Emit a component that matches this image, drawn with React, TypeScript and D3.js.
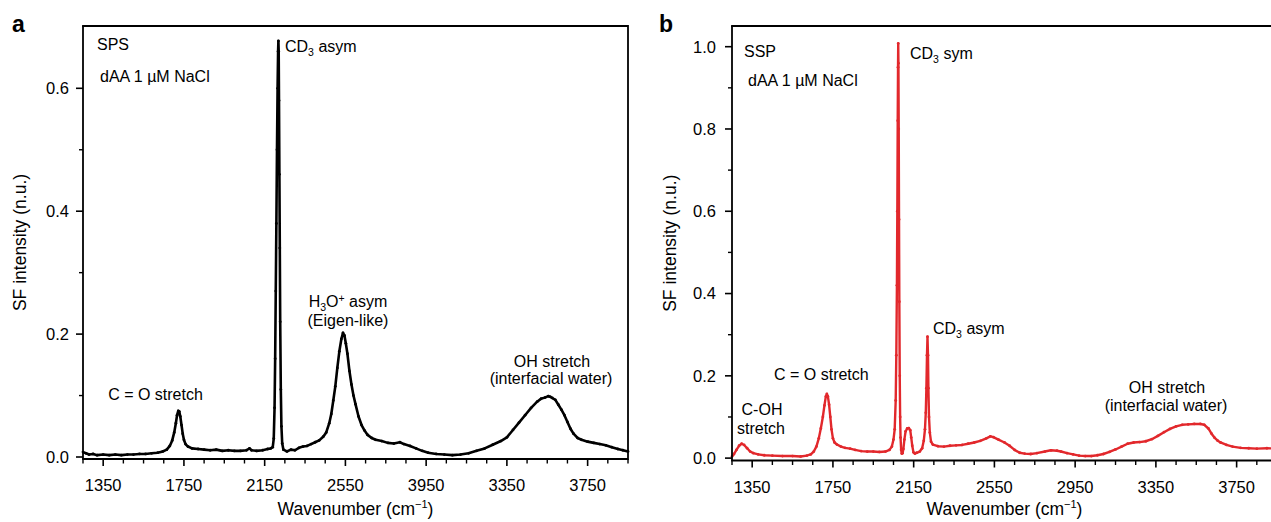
import React from 'react';
import * as d3 from 'd3';

// ---------- Data ----------
// Panel a: SPS, dAA 1 µM NaCl (black)
const spsWavenumber = [
  1250, 1265, 1280, 1300, 1320, 1350, 1380, 1410, 1440, 1470, 1500, 1530, 1560, 1590, 1620, 1645, 1665, 1680,
  1692, 1702, 1710, 1716, 1722, 1727, 1732, 1738, 1744, 1750, 1758, 1770, 1790, 1820, 1850, 1880, 1910, 1940,
  1970, 2000, 2030, 2060, 2075, 2085, 2110, 2140, 2165, 2180, 2190, 2195, 2199, 2202, 2205, 2208, 2211, 2214,
  2216.5, 2218, 2219.5, 2221, 2223, 2225, 2227, 2230, 2233, 2237, 2243, 2260, 2280, 2300, 2320, 2340, 2360, 2380,
  2400, 2420, 2440, 2455, 2470, 2480, 2490, 2500, 2510, 2520, 2530, 2538, 2545, 2552, 2560, 2570, 2580, 2590,
  2600, 2615, 2630, 2645, 2660, 2680, 2700, 2730, 2760, 2790, 2820, 2840, 2870, 2900, 2930, 2960, 3000, 3040,
  3080, 3120, 3160, 3200, 3240, 3280, 3320, 3350, 3380, 3410, 3440, 3470, 3500, 3520, 3540, 3555, 3565, 3575,
  3590, 3605, 3620, 3635, 3650, 3665, 3680, 3700, 3720, 3750, 3780, 3810, 3840, 3870, 3900, 3925, 3950,
];
const spsIntensity = [
  0.008, 0.006, 0.004, 0.005, 0.003, 0.004, 0.003, 0.004, 0.003, 0.004, 0.004, 0.005, 0.005, 0.006, 0.007, 0.009, 0.012, 0.018,
  0.027, 0.040, 0.055, 0.068, 0.075, 0.074, 0.066, 0.052, 0.038, 0.028, 0.021, 0.017, 0.014, 0.013, 0.012, 0.011, 0.012, 0.010,
  0.011, 0.010, 0.010, 0.011, 0.014, 0.011, 0.010, 0.011, 0.013, 0.014, 0.016, 0.030, 0.080, 0.160, 0.270, 0.380, 0.500, 0.600,
  0.660, 0.677, 0.660, 0.580, 0.460, 0.340, 0.220, 0.110, 0.050, 0.022, 0.012, 0.009, 0.012, 0.011, 0.015, 0.017, 0.018, 0.021,
  0.024, 0.027, 0.033, 0.040, 0.055, 0.070, 0.092, 0.115, 0.145, 0.172, 0.192, 0.202, 0.198, 0.185, 0.168, 0.140, 0.118, 0.100,
  0.086, 0.066, 0.052, 0.043, 0.036, 0.031, 0.028, 0.026, 0.023, 0.022, 0.024, 0.021, 0.018, 0.014, 0.010, 0.007, 0.005, 0.004,
  0.003, 0.004, 0.006, 0.010, 0.014, 0.020, 0.026, 0.032, 0.044, 0.056, 0.068, 0.080, 0.090, 0.095, 0.097, 0.099, 0.098, 0.096,
  0.093, 0.085, 0.077, 0.068, 0.057, 0.046, 0.038, 0.031, 0.028, 0.025, 0.023, 0.021, 0.019, 0.016, 0.013, 0.011, 0.009,
];

// Panel b: SSP, dAA 1 µM NaCl (red)
const sspWavenumber = [
  1250, 1260, 1272, 1285, 1298, 1310, 1325, 1340, 1356, 1380, 1410, 1450, 1500, 1550, 1590, 1620, 1640, 1655,
  1668, 1680, 1690, 1700, 1708, 1715, 1720, 1725, 1731, 1737, 1743, 1750, 1758, 1770, 1790, 1810, 1835, 1860,
  1890, 1920, 1950, 1980, 2010, 2030, 2042, 2050, 2056, 2061, 2064, 2067, 2069, 2071, 2072.5, 2073.5, 2074.5, 2076,
  2077.5, 2079, 2081, 2083, 2085, 2088, 2091, 2095, 2099, 2104, 2110, 2118, 2126, 2133, 2138, 2143, 2149, 2156,
  2165, 2180, 2192, 2200, 2206, 2210, 2213, 2216, 2218.5, 2221, 2223, 2226, 2230, 2236, 2245, 2270, 2300, 2330,
  2360, 2390, 2420, 2450, 2480, 2510, 2530, 2545, 2570, 2600, 2625, 2650, 2675, 2700, 2730, 2760, 2800, 2830,
  2860, 2880, 2910, 2940, 2970, 3000, 3030, 3060, 3090, 3120, 3150, 3180, 3210, 3240, 3270, 3300, 3330, 3360,
  3390, 3420, 3450, 3480, 3510, 3540, 3570, 3590, 3610, 3625, 3640, 3655, 3670, 3700, 3730, 3770, 3810, 3850,
  3900, 3950,
];
const sspIntensity = [
  0.004, 0.010, 0.020, 0.030, 0.035, 0.032, 0.024, 0.016, 0.012, 0.009, 0.007, 0.006, 0.005, 0.005, 0.004, 0.006, 0.009, 0.016,
  0.028, 0.048, 0.072, 0.100, 0.128, 0.150, 0.156, 0.150, 0.130, 0.100, 0.070, 0.048, 0.038, 0.033, 0.028, 0.025, 0.023, 0.020,
  0.017, 0.016, 0.016, 0.015, 0.016, 0.020, 0.028, 0.045, 0.070, 0.140, 0.250, 0.420, 0.600, 0.820, 0.950, 1.008, 0.960, 0.800,
  0.580, 0.380, 0.200, 0.100, 0.050, 0.020, 0.011, 0.012, 0.022, 0.045, 0.065, 0.072, 0.073, 0.068, 0.050, 0.030, 0.014, 0.011,
  0.013, 0.016, 0.024, 0.042, 0.070, 0.110, 0.170, 0.250, 0.295, 0.250, 0.170, 0.100, 0.062, 0.040, 0.033, 0.029, 0.028, 0.030,
  0.031, 0.032, 0.035, 0.038, 0.042, 0.048, 0.053, 0.051, 0.045, 0.038, 0.030, 0.020, 0.013, 0.011, 0.010, 0.012, 0.016, 0.019,
  0.018, 0.016, 0.012, 0.009, 0.006, 0.005, 0.005, 0.007, 0.010, 0.015, 0.021, 0.028, 0.035, 0.038, 0.039, 0.041, 0.046, 0.054,
  0.063, 0.071, 0.077, 0.081, 0.082, 0.083, 0.083, 0.081, 0.072, 0.060, 0.050, 0.043, 0.038, 0.032, 0.028, 0.025, 0.024, 0.023,
  0.024, 0.023,
];

const xMajorTicks = [1350, 1750, 2150, 2550, 2950, 3350, 3750];
const spsXTickLabels = ['1350', '1750', '2150', '2550', '3950', '3350', '3750'];
const sspXTickLabels = ['1350', '1750', '2150', '2550', '2950', '3350', '3750'];
const xMinorTicks = [1250, 1450, 1550, 1650, 1850, 1950, 2050, 2250, 2350, 2450, 2650, 2750, 2850, 3050, 3150, 3250, 3450, 3550, 3650, 3850, 3950];

const spsYMajor = [0, 0.2, 0.4, 0.6];
const spsYLabels = ['0.0', '0.2', '0.4', '0.6'];
const spsYMinor = [0.1, 0.3, 0.5];
const sspYMajor = [0, 0.2, 0.4, 0.6, 0.8, 1.0];
const sspYLabels = ['0.0', '0.2', '0.4', '0.6', '0.8', '1.0'];
const sspYMinor = [0.1, 0.3, 0.5, 0.7, 0.9];

const FONT = "'Liberation Sans', Arial, Helvetica, sans-serif";

type PanelProps = {
  left: number; right: number; top: number; bottom: number;
  yDomain: [number, number];
  wn: number[]; val: number[]; color: string; lineWidth: number;
  yMajor: number[]; yLabels: string[]; yMinor: number[];
  xLabels: string[]; labelGap: number; titleX: number;
  children?: React.ReactNode;
  drawRight: boolean;
};

function Panel(p: PanelProps) {
  const x = d3.scaleLinear().domain([1250, 3950]).range([p.left, p.right]);
  const y = d3.scaleLinear().domain(p.yDomain).range([p.bottom, p.top]);
  const pts: [number, number][] = p.wn.map((w, i) => [w, p.val[i]]);
  const line = d3.line<[number, number]>().x(d => x(d[0])).y(d => y(d[1]));
  const path = line(pts) || '';
  const midY = (p.top + p.bottom) / 2;
  return (
    <g>
      <path d={path} fill="none" stroke={p.color} strokeWidth={p.lineWidth} strokeLinejoin="round" />
      {pts.map((d, i) => (
        <circle key={i} cx={x(d[0])} cy={y(d[1])} r={1.4} fill={p.color} />
      ))}
      {/* frame */}
      <line x1={p.left} x2={p.left} y1={p.top} y2={p.bottom} stroke="#000" strokeWidth={1.8} />
      <line x1={p.left - 0.9} x2={p.right} y1={p.bottom} y2={p.bottom} stroke="#000" strokeWidth={1.8} />
      <line x1={p.left - 0.9} x2={p.right} y1={p.top} y2={p.top} stroke="#000" strokeWidth={1.8} />
      {p.drawRight && <line x1={p.right} x2={p.right} y1={p.top - 0.9} y2={p.bottom + 0.9} stroke="#000" strokeWidth={1.8} />}
      {/* y ticks */}
      {p.yMajor.map((v, i) => (
        <g key={'ym' + i}>
          <line x1={p.left - 7} x2={p.left} y1={y(v)} y2={y(v)} stroke="#000" strokeWidth={1.6} />
          <text x={p.left - p.labelGap} y={y(v)} dy="0.36em" textAnchor="end" fontSize={16.5} fontFamily={FONT}>{p.yLabels[i]}</text>
        </g>
      ))}
      {p.yMinor.map((v, i) => (
        <line key={'yn' + i} x1={p.left - 4} x2={p.left} y1={y(v)} y2={y(v)} stroke="#000" strokeWidth={1.4} />
      ))}
      {/* x ticks */}
      {xMajorTicks.map((w, i) => (
        <g key={'xm' + i}>
          <line x1={x(w)} x2={x(w)} y1={p.bottom} y2={p.bottom + 7} stroke="#000" strokeWidth={1.6} />
          <text x={x(w)} y={p.bottom + 32} textAnchor="middle" fontSize={16.5} fontFamily={FONT}>{p.xLabels[i]}</text>
        </g>
      ))}
      {xMinorTicks.map((w, i) => (
        <line key={'xn' + i} x1={x(w)} x2={x(w)} y1={p.bottom} y2={p.bottom + 4.5} stroke="#000" strokeWidth={1.4} />
      ))}
      {/* axis titles */}
      <text transform={`translate(${p.titleX},${midY}) rotate(-90)`} textAnchor="middle" fontSize={17.5} fontFamily={FONT}>SF intensity (n.u.)</text>
      <text x={(p.left + p.right) / 2} y={515} textAnchor="middle" fontSize={17.5} fontFamily={FONT}>
        Wavenumber (cm<tspan fontSize={11} dy={-7}>−1</tspan><tspan dy={7}>)</tspan>
      </text>
      {p.children}
    </g>
  );
}

const T = (props: { x: number; y: number; anchor?: string; children: React.ReactNode }) => (
  <text x={props.x} y={props.y} textAnchor={props.anchor || 'start'} fontSize={16} fontFamily={FONT}>{props.children}</text>
);

export default function App() {
  return (
    <div style={{ position: 'absolute', left: 0, top: 0 }}>
      <svg width={1271} height={522} style={{ display: 'block', background: '#fff' }}>
        <text x={12} y={31.5} fontSize={23} fontWeight="bold" fontFamily={FONT}>a</text>
        <text x={659} y={31.5} fontSize={23} fontWeight="bold" fontFamily={FONT}>b</text>
        <Panel left={83} right={628} top={26} bottom={459} yDomain={[-0.00325, 0.7014]}
          wn={spsWavenumber} val={spsIntensity} color="#000" lineWidth={2.6}
          yMajor={spsYMajor} yLabels={spsYLabels} yMinor={spsYMinor}
          xLabels={spsXTickLabels} labelGap={14} titleX={26} drawRight={true}>
          <T x={97} y={50}>SPS</T>
          <T x={100} y={82}>dAA 1 µM NaCl</T>
          <T x={285} y={52}>CD<tspan fontSize={10.5} dy={4}>3</tspan><tspan dy={-4}> asym</tspan></T>
          <T x={348} y={307} anchor="middle">H<tspan fontSize={10.5} dy={4}>3</tspan><tspan dy={-4}>O</tspan><tspan fontSize={10.5} dy={-5}>+</tspan><tspan dy={5}> asym</tspan></T>
          <T x={348} y={326} anchor="middle">(Eigen-like)</T>
          <T x={552} y={366.5} anchor="middle">OH stretch</T>
          <T x={551} y={384} anchor="middle">(interfacial water)</T>
          <T x={155.5} y={400} anchor="middle">C = O stretch</T>
        </Panel>
        <Panel left={732} right={1277} top={26} bottom={460.5} yDomain={[-0.0058, 1.0503]}
          wn={sspWavenumber} val={sspIntensity} color="#e2282c" lineWidth={2.4}
          yMajor={sspYMajor} yLabels={sspYLabels} yMinor={sspYMinor}
          xLabels={sspXTickLabels} labelGap={16} titleX={676} drawRight={false}>
          <T x={744} y={56.5}>SSP</T>
          <T x={748} y={86}>dAA 1 µM NaCl</T>
          <T x={910} y={59}>CD<tspan fontSize={10.5} dy={4}>3</tspan><tspan dy={-4}> sym</tspan></T>
          <T x={933} y={334}>CD<tspan fontSize={10.5} dy={4}>3</tspan><tspan dy={-4}> asym</tspan></T>
          <T x={774} y={380}>C = O stretch</T>
          <T x={762} y={415} anchor="middle">C-OH</T>
          <T x={761} y={434} anchor="middle">stretch</T>
          <T x={1167} y={393} anchor="middle">OH stretch</T>
          <T x={1166} y={411} anchor="middle">(interfacial water)</T>
        </Panel>
      </svg>
    </div>
  );
}
